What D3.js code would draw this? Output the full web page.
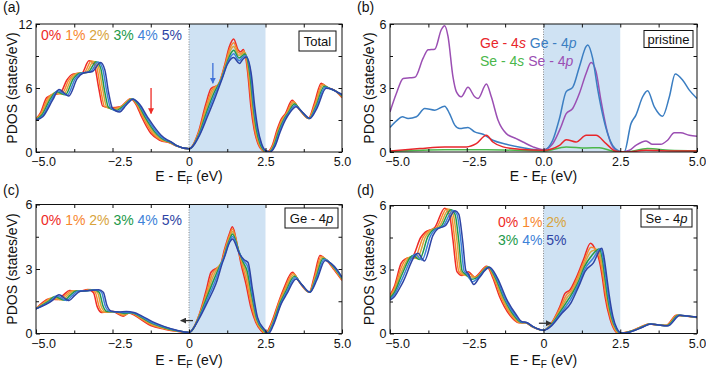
<!DOCTYPE html>
<html>
<head>
<meta charset="utf-8">
<script src="https://cdn.jsdelivr.net/npm/d3@7/dist/d3.min.js"></script>
<style>
  body { margin: 0; background: #fff; }
  text { font-family: "Liberation Sans", Arial, sans-serif; }
</style>
</head>
<body>
<svg id="chart" width="706" height="369"></svg>
<script>
// ---------- data ----------
const strainLabels = ['0%', '1%', '2%', '3%', '4%', '5%'];
const strainColors = ['#ee2b26', '#f7862e', '#d8a43c', '#22994a', '#3d82d8', '#2e44a4'];

const xTickValues = [-5, -2.5, 0, 2.5, 5];
const xMinorTicks = [-3.75, -1.25, 1.25, 3.75];
const xTickLabels = ['\u22125.0', '\u22122.5', '0', '2.5', '5.0'];
const xTickLabelsB = ['\u22125.0', '\u22122.5', '0.0', '2.5', '5.0'];
const yTicksTotal = [0, 6, 12];
const yMinorTotal = [3, 9];
const yTicksPdos = [0, 3, 6];
const yMinorPdos = [1.5, 4.5];

// (a) total DOS, [E - EF, states/eV], one array per strain
const total0 = [[-5,3.1],[-4.85,3.7],[-4.65,5.1],[-4.45,5.35],[-4.2,5.55],[-4,6.7],[-3.8,7.3],[-3.5,7.4],[-3.27,8.55],[-3.1,8.2],[-2.95,6],[-2.82,4.3],[-2.55,4.15],[-2.25,4.25],[-1.9,5],[-1.72,4.4],[-1.55,3.3],[-1.25,1.75],[-0.95,1.1],[-0.62,0.85],[-0.4,0.55],[0,0.3],[0.3,1.8],[0.55,4.5],[0.72,5.95],[0.95,6.3],[1.15,8],[1.32,9.9],[1.46,10.6],[1.6,9.6],[1.68,9.4],[1.78,9.6],[1.92,7.4],[2.02,4.3],[2.13,2.1],[2.25,0.8],[2.4,0.15],[2.55,0],[2.72,0.6],[2.88,2.1],[3.02,3.1],[3.15,3.6],[3.37,4.85],[3.6,4],[3.9,3.15],[4.1,4.6],[4.32,6.45],[4.52,6.05],[4.75,5.8],[5,5.1]];
const total1 = [[-5,3.08],[-4.84,3.62],[-4.61,5.06],[-4.41,5.45],[-4.15,5.49],[-3.93,6.74],[-3.73,7.32],[-3.43,7.43],[-3.19,8.52],[-3.03,8.1],[-2.89,5.92],[-2.76,4.26],[-2.49,4.07],[-2.21,4.28],[-1.89,4.99],[-1.7,4.42],[-1.51,3.3],[-1.18,1.72],[-0.91,1.12],[-0.61,0.87],[-0.4,0.56],[0,0.3],[0.31,1.76],[0.56,4.26],[0.75,5.82],[0.98,6.44],[1.17,8.04],[1.33,9.67],[1.46,10.25],[1.61,9.34],[1.7,9.26],[1.8,9.46],[1.94,7.36],[2.05,4.28],[2.15,2.12],[2.27,0.8],[2.42,0.15],[2.57,0],[2.74,0.6],[2.9,2.04],[3.05,3.08],[3.18,3.62],[3.4,4.73],[3.62,3.95],[3.91,3.15],[4.12,4.5],[4.35,6.35],[4.55,6.02],[4.77,5.76],[5,5.16]];
const total2 = [[-5,3.06],[-4.82,3.54],[-4.57,5.02],[-4.37,5.55],[-4.09,5.43],[-3.86,6.78],[-3.66,7.34],[-3.36,7.46],[-3.12,8.49],[-2.96,8],[-2.82,5.84],[-2.69,4.22],[-2.44,3.99],[-2.17,4.31],[-1.87,4.98],[-1.68,4.44],[-1.47,3.3],[-1.12,1.69],[-0.87,1.14],[-0.6,0.89],[-0.4,0.57],[0,0.3],[0.32,1.72],[0.57,4.02],[0.78,5.69],[1.01,6.58],[1.19,8.08],[1.34,9.44],[1.46,9.9],[1.62,9.08],[1.71,9.12],[1.82,9.32],[1.97,7.32],[2.07,4.26],[2.18,2.14],[2.3,0.8],[2.44,0.15],[2.59,0],[2.76,0.6],[2.92,1.98],[3.07,3.06],[3.21,3.64],[3.42,4.61],[3.64,3.9],[3.92,3.15],[4.13,4.4],[4.38,6.26],[4.57,5.99],[4.79,5.72],[5,5.22]];
const total3 = [[-5,3.04],[-4.81,3.46],[-4.53,4.98],[-4.33,5.65],[-4.04,5.37],[-3.79,6.82],[-3.59,7.36],[-3.29,7.49],[-3.04,8.46],[-2.89,7.9],[-2.76,5.76],[-2.63,4.18],[-2.38,3.91],[-2.13,4.34],[-1.86,4.97],[-1.66,4.46],[-1.44,3.3],[-1.05,1.66],[-0.83,1.16],[-0.6,0.91],[-0.4,0.58],[0,0.3],[0.33,1.68],[0.58,3.78],[0.82,5.56],[1.04,6.72],[1.21,8.12],[1.36,9.21],[1.46,9.55],[1.63,8.82],[1.73,8.98],[1.83,9.18],[1.99,7.28],[2.1,4.24],[2.2,2.16],[2.32,0.8],[2.46,0.15],[2.61,0],[2.78,0.6],[2.93,1.92],[3.1,3.04],[3.24,3.66],[3.45,4.49],[3.66,3.85],[3.93,3.15],[4.15,4.3],[4.42,6.16],[4.6,5.96],[4.81,5.68],[5,5.28]];
const total4 = [[-5,3.02],[-4.79,3.38],[-4.49,4.94],[-4.29,5.75],[-3.98,5.31],[-3.72,6.86],[-3.52,7.38],[-3.22,7.52],[-2.97,8.43],[-2.82,7.8],[-2.69,5.68],[-2.56,4.14],[-2.33,3.83],[-2.09,4.37],[-1.84,4.96],[-1.64,4.48],[-1.4,3.3],[-0.99,1.63],[-0.79,1.18],[-0.59,0.93],[-0.4,0.59],[0,0.3],[0.34,1.64],[0.59,3.54],[0.85,5.43],[1.07,6.86],[1.23,8.16],[1.37,8.98],[1.46,9.2],[1.64,8.56],[1.74,8.84],[1.85,9.04],[2.02,7.24],[2.12,4.22],[2.23,2.18],[2.35,0.8],[2.48,0.15],[2.63,0],[2.8,0.6],[2.95,1.86],[3.12,3.02],[3.27,3.68],[3.47,4.37],[3.68,3.8],[3.94,3.15],[4.16,4.2],[4.45,6.07],[4.62,5.93],[4.83,5.64],[5,5.34]];
const total5 = [[-5,3],[-4.78,3.3],[-4.45,4.9],[-4.25,5.85],[-3.93,5.25],[-3.65,6.9],[-3.45,7.4],[-3.15,7.55],[-2.89,8.4],[-2.75,7.7],[-2.63,5.6],[-2.5,4.1],[-2.27,3.75],[-2.05,4.4],[-1.83,4.95],[-1.62,4.5],[-1.36,3.3],[-0.92,1.6],[-0.75,1.2],[-0.58,0.95],[-0.4,0.6],[0,0.3],[0.35,1.6],[0.6,3.3],[0.88,5.3],[1.1,7],[1.25,8.2],[1.38,8.75],[1.46,8.85],[1.65,8.3],[1.76,8.7],[1.87,8.9],[2.04,7.2],[2.15,4.2],[2.25,2.2],[2.37,0.8],[2.5,0.15],[2.65,0],[2.82,0.6],[2.97,1.8],[3.15,3],[3.3,3.7],[3.5,4.25],[3.7,3.75],[3.95,3.15],[4.18,4.1],[4.48,5.97],[4.65,5.9],[4.85,5.6],[5,5.4]];

// (b) pristine projected DOS
const orbitalNames = [['Ge - 4', 's'], ['Ge - 4', 'p'], ['Se - 4', 's'], ['Se - 4', 'p']];
const orbitalColors = ['#e8262b', '#3b7ec2', '#4bb74b', '#9b4fb3'];
const ge4s = [[-5,0.05],[-4.03,0.16],[-3.22,0.24],[-2.51,0.24],[-2.19,0.39],[-1.86,0.78],[-1.65,0.47],[-1.32,0.24],[-0.78,0.13],[0,0.08],[0.52,0.31],[0.74,0.58],[1.06,0.47],[1.39,0.78],[1.71,0.78],[2.04,0.39],[2.36,0.03],[2.69,0],[3.34,0.08],[4.1,0.05],[5,0.05]];
const ge4p = [[-5,1.15],[-4.79,1.46],[-4.6,1.65],[-4.41,1.57],[-4.14,1.65],[-3.87,2.04],[-3.54,1.96],[-3.22,2.15],[-3.06,1.8],[-2.89,1.26],[-2.73,1.1],[-2.46,1.15],[-2.24,0.94],[-1.97,0.83],[-1.65,0.55],[-1.21,0.36],[-0.67,0.2],[0,0.08],[0.3,0.55],[0.52,1.57],[0.74,2.83],[0.95,3.03],[1.17,4],[1.39,4.95],[1.44,5.02],[1.6,4.4],[1.77,2.9],[1.93,1.73],[2.09,0.86],[2.25,0.31],[2.42,0.08],[2.63,0],[2.85,1.33],[3.01,1.73],[3.23,2.59],[3.39,2.87],[3.61,2.12],[3.88,1.68],[4.1,2.59],[4.29,3.66],[4.53,3.38],[4.75,2.9],[5,2.51]];
const se4s = [[-5,0.03],[-3.22,0.11],[-1.86,0.11],[0,0.05],[0.74,0.24],[1.39,0.19],[1.82,0.2],[2.25,0.05],[2.69,0],[3.39,0.16],[4.1,0.08],[5,0.05]];
const se4p = [[-5,1.88],[-4.79,2.75],[-4.57,3.45],[-4.35,3.48],[-4.19,3.5],[-3.92,4.4],[-3.76,4.79],[-3.54,4.82],[-3.33,5.73],[-3.22,5.92],[-3.11,5.42],[-2.95,3.53],[-2.84,2.83],[-2.68,2.59],[-2.46,3.03],[-2.24,2.59],[-2.13,2.51],[-1.86,3.19],[-1.7,2.59],[-1.48,1.49],[-1.21,0.86],[-0.89,0.63],[-0.67,0.47],[-0.34,0.24],[0,0.11],[0.3,0.39],[0.57,1.18],[0.74,1.8],[0.95,2.04],[1.17,2.75],[1.39,3.69],[1.55,4.19],[1.71,3.77],[1.87,2.43],[2.04,1.18],[2.2,0.39],[2.36,0.08],[2.52,0],[2.8,0.08],[3.01,0.31],[3.34,0.52],[3.55,0.36],[3.82,0.36],[4.04,0.55],[4.26,0.9],[4.47,0.9],[4.75,0.78],[5,0.74]];

// (c) Ge-4p under strain
const ge0 = [[-5,1.15],[-4.78,1.45],[-4.6,1.6],[-4.3,1.58],[-4.1,1.8],[-3.9,2],[-3.6,1.95],[-3.3,2.05],[-3.12,1.9],[-3,1.25],[-2.85,0.98],[-2.5,1.02],[-2.15,0.8],[-1.97,0.95],[-1.6,0.68],[-1.25,0.37],[-0.8,0.2],[-0.4,0.1],[0,0.05],[0.34,0.91],[0.56,2],[0.72,2.85],[0.92,3.05],[1.02,3.15],[1.15,3.86],[1.32,4.64],[1.42,4.97],[1.59,4.02],[1.7,3.24],[1.86,2.31],[2.02,1.22],[2.18,0.53],[2.35,0.14],[2.5,0],[2.68,0.45],[2.95,1.55],[3.1,2.1],[3.38,2.85],[3.6,2.4],[3.93,1.92],[4.1,2.7],[4.28,3.63],[4.5,3.4],[4.75,2.95],[5,2.47]];
const ge1 = [[-5,1.15],[-4.71,1.47],[-4.53,1.64],[-4.22,1.57],[-4.03,1.79],[-3.83,1.99],[-3.53,1.96],[-3.23,2.05],[-3.06,1.9],[-2.94,1.26],[-2.79,0.99],[-2.46,1.02],[-2.13,0.84],[-1.94,0.96],[-1.59,0.71],[-1.24,0.41],[-0.8,0.22],[-0.4,0.11],[0,0.05],[0.34,0.87],[0.57,1.89],[0.75,2.74],[0.96,3.1],[1.06,3.26],[1.18,3.92],[1.33,4.58],[1.42,4.86],[1.6,3.96],[1.72,3.28],[1.87,2.51],[2.03,1.38],[2.19,0.57],[2.37,0.15],[2.52,0],[2.7,0.44],[2.96,1.52],[3.12,2.05],[3.4,2.79],[3.62,2.37],[3.93,1.92],[4.12,2.66],[4.31,3.58],[4.53,3.37],[4.77,2.95],[5,2.5]];
const ge2 = [[-5,1.15],[-4.65,1.49],[-4.46,1.68],[-4.15,1.56],[-3.96,1.78],[-3.76,1.99],[-3.46,1.97],[-3.16,2.04],[-2.99,1.91],[-2.87,1.27],[-2.73,1.01],[-2.42,1.01],[-2.11,0.89],[-1.9,0.96],[-1.58,0.74],[-1.23,0.44],[-0.8,0.25],[-0.4,0.12],[0,0.05],[0.34,0.83],[0.58,1.78],[0.78,2.63],[0.99,3.16],[1.09,3.38],[1.21,3.98],[1.34,4.52],[1.42,4.74],[1.61,3.89],[1.74,3.32],[1.89,2.71],[2.04,1.53],[2.2,0.62],[2.39,0.16],[2.54,0],[2.71,0.43],[2.98,1.49],[3.14,2],[3.43,2.73],[3.64,2.34],[3.94,1.92],[4.13,2.62],[4.35,3.54],[4.56,3.34],[4.79,2.95],[5,2.53]];
const ge3 = [[-5,1.15],[-4.58,1.51],[-4.39,1.72],[-4.07,1.55],[-3.89,1.77],[-3.69,1.98],[-3.39,1.98],[-3.09,2.04],[-2.93,1.91],[-2.81,1.28],[-2.67,1.02],[-2.38,1.01],[-2.09,0.93],[-1.87,0.97],[-1.57,0.76],[-1.22,0.48],[-0.8,0.27],[-0.4,0.13],[0,0.05],[0.34,0.8],[0.58,1.67],[0.82,2.53],[1.03,3.21],[1.13,3.49],[1.24,4.03],[1.35,4.45],[1.42,4.63],[1.63,3.83],[1.76,3.35],[1.9,2.9],[2.06,1.69],[2.22,0.66],[2.42,0.18],[2.56,0],[2.73,0.42],[2.99,1.46],[3.16,1.95],[3.45,2.66],[3.66,2.31],[3.94,1.92],[4.15,2.58],[4.38,3.49],[4.59,3.31],[4.81,2.95],[5,2.56]];
const ge4 = [[-5,1.15],[-4.51,1.53],[-4.32,1.76],[-4,1.54],[-3.82,1.76],[-3.62,1.98],[-3.32,1.99],[-3.02,2.03],[-2.86,1.92],[-2.74,1.29],[-2.61,1.04],[-2.34,1],[-2.07,0.98],[-1.83,0.97],[-1.56,0.79],[-1.21,0.51],[-0.8,0.3],[-0.4,0.14],[0,0.05],[0.34,0.76],[0.59,1.56],[0.85,2.42],[1.06,3.27],[1.16,3.61],[1.27,4.09],[1.36,4.39],[1.42,4.51],[1.64,3.76],[1.78,3.39],[1.92,3.1],[2.07,1.84],[2.23,0.71],[2.44,0.19],[2.58,0],[2.74,0.41],[3.01,1.43],[3.18,1.9],[3.48,2.6],[3.68,2.28],[3.95,1.92],[4.16,2.54],[4.42,3.45],[4.62,3.28],[4.83,2.95],[5,2.59]];
const ge5 = [[-5,1.15],[-4.45,1.55],[-4.25,1.8],[-3.92,1.53],[-3.75,1.75],[-3.55,1.97],[-3.25,2],[-2.95,2.03],[-2.8,1.92],[-2.68,1.3],[-2.55,1.05],[-2.3,1],[-2.05,1.02],[-1.8,0.98],[-1.55,0.82],[-1.2,0.55],[-0.8,0.32],[-0.4,0.15],[0,0.05],[0.34,0.72],[0.6,1.45],[0.88,2.31],[1.1,3.32],[1.2,3.72],[1.3,4.15],[1.37,4.33],[1.42,4.4],[1.65,3.7],[1.8,3.43],[1.93,3.3],[2.08,2],[2.24,0.75],[2.46,0.2],[2.6,0],[2.76,0.4],[3.02,1.4],[3.2,1.85],[3.5,2.54],[3.7,2.25],[3.95,1.92],[4.18,2.5],[4.45,3.4],[4.65,3.25],[4.85,2.95],[5,2.62]];

// (d) Se-4p under strain
const se0 = [[-5,1.8],[-4.86,2.2],[-4.64,3.29],[-4.5,3.5],[-4.28,3.58],[-4,4.5],[-3.85,4.75],[-3.55,4.95],[-3.22,5.87],[-3.06,5.56],[-2.95,4.4],[-2.82,2.9],[-2.65,2.72],[-2.45,2.9],[-2.25,2.65],[-1.85,3.15],[-1.65,2.6],[-1.43,1.72],[-1.1,0.86],[-0.8,0.5],[-0.6,0.5],[-0.35,0.3],[0,0.15],[0.21,0.39],[0.53,1.25],[0.7,1.88],[0.86,2.04],[1.08,2.66],[1.3,3.45],[1.53,4.23],[1.7,3.9],[1.82,3.4],[1.92,2.6],[2,1.76],[2.17,0.67],[2.33,0.13],[2.45,0],[2.65,0.05],[2.93,0.16],[3.15,0.3],[3.45,0.45],[3.7,0.4],[4,0.38],[4.33,0.86],[4.6,0.82],[5,0.75]];
const se1 = [[-5,1.75],[-4.86,2.1],[-4.63,3.1],[-4.42,3.55],[-4.2,3.54],[-3.92,4.52],[-3.77,4.78],[-3.48,4.97],[-3.15,5.85],[-3,5.57],[-2.89,4.38],[-2.76,2.91],[-2.61,2.74],[-2.41,2.78],[-2.22,2.64],[-1.83,3.14],[-1.62,2.6],[-1.38,1.7],[-1.06,0.87],[-0.78,0.51],[-0.59,0.5],[-0.35,0.31],[0,0.15],[0.21,0.37],[0.54,1.19],[0.74,1.79],[0.9,2.01],[1.1,2.6],[1.31,3.34],[1.55,4.04],[1.74,3.92],[1.85,3.42],[1.95,2.61],[2.03,1.77],[2.19,0.7],[2.34,0.15],[2.47,0],[2.66,0.05],[2.94,0.16],[3.16,0.3],[3.46,0.45],[3.71,0.4],[4.01,0.38],[4.35,0.86],[4.62,0.82],[5,0.75]];
const se2 = [[-5,1.7],[-4.86,2.01],[-4.62,2.91],[-4.34,3.6],[-4.12,3.51],[-3.84,4.54],[-3.69,4.81],[-3.41,4.99],[-3.08,5.82],[-2.94,5.58],[-2.82,4.36],[-2.7,2.92],[-2.57,2.75],[-2.38,2.66],[-2.19,2.63],[-1.81,3.13],[-1.59,2.6],[-1.34,1.67],[-1.02,0.88],[-0.76,0.52],[-0.58,0.51],[-0.35,0.31],[0,0.15],[0.21,0.35],[0.56,1.13],[0.78,1.71],[0.94,1.98],[1.12,2.54],[1.32,3.23],[1.57,3.86],[1.78,3.94],[1.88,3.44],[1.98,2.62],[2.06,1.78],[2.21,0.72],[2.35,0.17],[2.49,0.01],[2.67,0.04],[2.95,0.16],[3.17,0.29],[3.47,0.45],[3.72,0.4],[4.02,0.37],[4.38,0.86],[4.63,0.82],[5,0.76]];
const se3 = [[-5,1.66],[-4.86,1.91],[-4.62,2.73],[-4.25,3.66],[-4.04,3.47],[-3.76,4.56],[-3.61,4.84],[-3.34,5.01],[-3.02,5.8],[-2.88,5.58],[-2.76,4.34],[-2.65,2.93],[-2.53,2.77],[-2.34,2.54],[-2.16,2.62],[-1.8,3.12],[-1.56,2.6],[-1.29,1.65],[-0.98,0.88],[-0.74,0.53],[-0.57,0.51],[-0.35,0.32],[0,0.15],[0.21,0.34],[0.57,1.07],[0.82,1.62],[0.97,1.96],[1.15,2.47],[1.33,3.12],[1.58,3.67],[1.82,3.96],[1.92,3.46],[2,2.64],[2.08,1.78],[2.22,0.75],[2.37,0.2],[2.51,0.01],[2.68,0.04],[2.96,0.15],[3.18,0.29],[3.48,0.45],[3.73,0.4],[4.03,0.37],[4.4,0.85],[4.65,0.82],[5,0.76]];
const se4 = [[-5,1.61],[-4.86,1.82],[-4.61,2.54],[-4.17,3.71],[-3.96,3.44],[-3.68,4.58],[-3.53,4.87],[-3.27,5.03],[-2.95,5.77],[-2.82,5.59],[-2.69,4.32],[-2.59,2.94],[-2.49,2.78],[-2.31,2.42],[-2.13,2.61],[-1.78,3.11],[-1.53,2.6],[-1.25,1.62],[-0.94,0.89],[-0.72,0.54],[-0.56,0.52],[-0.35,0.32],[0,0.15],[0.21,0.32],[0.59,1.01],[0.86,1.54],[1.01,1.93],[1.17,2.41],[1.34,3.01],[1.6,3.49],[1.86,3.98],[1.95,3.48],[2.03,2.65],[2.11,1.79],[2.24,0.77],[2.38,0.22],[2.53,0.02],[2.69,0.03],[2.97,0.15],[3.19,0.28],[3.49,0.45],[3.74,0.4],[4.04,0.36],[4.43,0.85],[4.66,0.82],[5,0.77]];
const se5 = [[-5,1.56],[-4.86,1.72],[-4.6,2.35],[-4.09,3.76],[-3.88,3.4],[-3.6,4.6],[-3.45,4.9],[-3.2,5.05],[-2.88,5.75],[-2.76,5.6],[-2.63,4.3],[-2.53,2.95],[-2.45,2.8],[-2.27,2.3],[-2.1,2.6],[-1.76,3.1],[-1.5,2.6],[-1.2,1.6],[-0.9,0.9],[-0.7,0.55],[-0.55,0.52],[-0.35,0.33],[0,0.15],[0.21,0.3],[0.6,0.95],[0.9,1.45],[1.05,1.9],[1.19,2.35],[1.35,2.9],[1.62,3.3],[1.9,4],[1.98,3.5],[2.06,2.66],[2.14,1.8],[2.26,0.8],[2.39,0.24],[2.55,0.02],[2.7,0.03],[2.98,0.15],[3.2,0.28],[3.5,0.45],[3.75,0.4],[4.05,0.36],[4.45,0.85],[4.68,0.82],[5,0.77]];

// ---------- drawing ----------
const svg = d3.select('#chart');
const defs = svg.append('defs');

function arrowMarker(id, color) {
  defs.append('marker')
    .attr('id', id)
    .attr('viewBox', '0 0 10 10')
    .attr('refX', 9).attr('refY', 5)
    .attr('markerUnits', 'userSpaceOnUse')
    .attr('markerWidth', 6).attr('markerHeight', 6)
    .attr('orient', 'auto')
    .append('path').attr('d', 'M0,0 L10,5 L0,10 z').attr('fill', color);
}
arrowMarker('head-red', '#ee2b26');
arrowMarker('head-blue', '#3d6fd8');
arrowMarker('head-black', '#333');

const panels = [
  { key: 'a', tag: '(a)', left: 36, right: 342, top: 24, bottom: 152, yMax: 12,
    yTicks: yTicksTotal, yMinor: yMinorTotal, xLabels: xTickLabels,
    series: [total0, total1, total2, total3, total4, total5], colors: strainColors, order: [0, 1, 2, 3, 4, 5],
    box: { parts: [['Total', false]], x: 299, y: 31, w: 37, h: 20 },
    legend: { x: 41, rows: [[0, 1, 2, 3, 4, 5]], y: [40] },
    arrows: [{ e1: -1.24, v1: 6.0, e2: -1.24, v2: 3.6, head: 'head-red', color: '#ee2b26' },
             { e1: 0.78, v1: 8.35, e2: 0.78, v2: 6.45, head: 'head-blue', color: '#3d6fd8' }],
    labelPad: 5, titleY: 181, yTitleX: 17, tagY: 12 },
  { key: 'b', tag: '(b)', left: 390, right: 697, top: 24, bottom: 152, yMax: 6,
    yTicks: yTicksPdos, yMinor: yMinorPdos, xLabels: xTickLabelsB,
    series: [ge4s, ge4p, se4s, se4p], colors: orbitalColors, order: [3, 1, 2, 0],
    box: { parts: [['pristine', false]], x: 644, y: 30.5, w: 49, h: 17 },
    orbitalLegend: { x: 480, y: [47.5, 65.5], rows: [[0, 1], [2, 3]] },
    arrows: [],
    labelPad: 5, titleY: 181, yTitleX: 374, tagY: 12 },
  { key: 'c', tag: '(c)', left: 36, right: 342, top: 204.5, bottom: 333.5, yMax: 6,
    yTicks: yTicksPdos, yMinor: yMinorPdos, xLabels: xTickLabels,
    series: [ge0, ge1, ge2, ge3, ge4, ge5], colors: strainColors, order: [0, 1, 2, 3, 4, 5],
    box: { parts: [['Ge - 4', false], ['p', true]], x: 285, y: 208, w: 53, h: 20 },
    legend: { x: 41, rows: [[0, 1, 2, 3, 4, 5]], y: [225] },
    arrows: [{ e1: 0.13, v1: 0.6, e2: -0.27, v2: 0.6, head: 'head-black', color: '#333' }],
    labelPad: 6, titleY: 365, yTitleX: 17, tagY: 195 },
  { key: 'd', tag: '(d)', left: 390, right: 697, top: 205.5, bottom: 333.5, yMax: 6,
    yTicks: yTicksPdos, yMinor: yMinorPdos, xLabels: xTickLabels,
    series: [se0, se1, se2, se3, se4, se5], colors: strainColors, order: [0, 1, 2, 3, 4, 5],
    box: { parts: [['Se - 4', false], ['p', true]], x: 641, y: 209, w: 51, h: 18 },
    legend: { x: 498, rows: [[0, 1, 2], [3, 4, 5]], y: [227, 245] },
    arrows: [{ e1: -0.15, v1: 0.48, e2: 0.25, v2: 0.48, head: 'head-black', color: '#333' }],
    labelPad: 6, titleY: 365, yTitleX: 374, tagY: 195 }
];

function drawPanel(p) {
  const x = d3.scaleLinear().domain([-5, 5]).range([p.left, p.right]);
  const y = d3.scaleLinear().domain([0, p.yMax]).range([p.bottom, p.top]);
  const g = svg.append('g');

  defs.append('clipPath').attr('id', 'clip-' + p.key)
    .append('rect')
      .attr('x', p.left).attr('y', p.top)
      .attr('width', p.right - p.left).attr('height', p.bottom - p.top);

  // conduction window, 0 to 2.5 eV
  g.append('rect')
    .attr('x', x(0)).attr('y', p.top)
    .attr('width', x(2.5) - x(0)).attr('height', p.bottom - p.top)
    .attr('fill', '#cfe2f3');
  g.append('line')
    .attr('x1', x(0)).attr('x2', x(0))
    .attr('y1', p.top).attr('y2', p.bottom)
    .attr('stroke', '#8a8a8a').attr('stroke-width', 1)
    .attr('stroke-dasharray', '1,1.5');

  const line = d3.line()
    .x(d => x(d[0]))
    .y(d => y(d[1]))
    .curve(d3.curveMonotoneX);

  const curves = g.append('g').attr('clip-path', `url(#clip-${p.key})`);
  p.order.forEach(i => {
    curves.append('path')
      .attr('d', line(p.series[i]))
      .attr('fill', 'none')
      .attr('stroke', p.colors[i])
      .attr('stroke-width', 1.5);
  });

  // axes, ticks pointing inwards on all four sides
  const bottom = g.append('g').attr('transform', `translate(0,${p.bottom})`)
    .call(d3.axisBottom(x).tickValues(xTickValues).tickSize(-4).tickPadding(p.labelPad)
      .tickFormat((d, i) => p.xLabels[i]));
  bottom.selectAll('text').attr('dx', d => d < 0 ? 7 : 0);
  g.append('g').attr('transform', `translate(0,${p.bottom})`)
    .call(d3.axisBottom(x).tickValues(xMinorTicks).tickSize(-3).tickFormat(''));
  g.append('g').attr('transform', `translate(0,${p.top})`)
    .call(d3.axisTop(x).tickValues(xTickValues.concat(xMinorTicks)).tickSize(-3.5).tickFormat(''));

  g.append('g').attr('transform', `translate(${p.left},0)`)
    .call(d3.axisLeft(y).tickValues(p.yTicks).tickSize(-4).tickPadding(3.5)
      .tickFormat(d => String(d)));
  g.append('g').attr('transform', `translate(${p.left},0)`)
    .call(d3.axisLeft(y).tickValues(p.yMinor).tickSize(-3).tickFormat(''));
  g.append('g').attr('transform', `translate(${p.right},0)`)
    .call(d3.axisRight(y).tickValues(p.yTicks.concat(p.yMinor)).tickSize(-3.5).tickFormat(''));

  g.selectAll('.domain').remove();
  g.selectAll('.tick text').attr('font-size', 12.5).attr('fill', '#111');
  g.selectAll('.tick line').attr('stroke', '#111');

  g.append('rect')
    .attr('x', p.left).attr('y', p.top)
    .attr('width', p.right - p.left).attr('height', p.bottom - p.top)
    .attr('fill', 'none').attr('stroke', '#111').attr('stroke-width', 1);

  // titles
  const xt = g.append('text')
    .attr('x', (p.left + p.right) / 2).attr('y', p.titleY)
    .attr('text-anchor', 'middle').attr('font-size', 14).attr('fill', '#111');
  xt.append('tspan').text('E - E');
  xt.append('tspan').attr('font-size', 10).attr('dy', 3).text('F');
  xt.append('tspan').attr('dy', -3).text(' (eV)');

  g.append('text')
    .attr('transform', `translate(${p.yTitleX},${(p.top + p.bottom) / 2}) rotate(-90)`)
    .attr('text-anchor', 'middle').attr('font-size', 14).attr('fill', '#111')
    .text('PDOS (states/eV)');

  g.append('text')
    .attr('x', p.left - 33).attr('y', p.tagY)
    .attr('font-size', 14).attr('fill', '#111')
    .text(p.tag);

  // boxed label
  g.append('rect')
    .attr('x', p.box.x).attr('y', p.box.y)
    .attr('width', p.box.w).attr('height', p.box.h)
    .attr('fill', '#fff').attr('stroke', '#111').attr('stroke-width', 1);
  const bt = g.append('text')
    .attr('x', p.box.x + p.box.w / 2).attr('y', p.box.y + p.box.h / 2 + 4.5)
    .attr('text-anchor', 'middle').attr('font-size', 13).attr('fill', '#111');
  p.box.parts.forEach(([s, it]) => {
    bt.append('tspan').attr('font-style', it ? 'italic' : null).text(s);
  });

  // strain legend
  if (p.legend) {
    p.legend.rows.forEach((row, r) => {
      const t = g.append('text')
        .attr('x', p.legend.x).attr('y', p.legend.y[r])
        .attr('font-size', 14).style('white-space', 'pre');
      row.forEach((k, j) => {
        t.append('tspan').attr('fill', strainColors[k])
          .text(strainLabels[k] + (j < row.length - 1 ? ' ' : ''));
      });
    });
  }

  // orbital legend
  if (p.orbitalLegend) {
    p.orbitalLegend.rows.forEach((row, r) => {
      const t = g.append('text')
        .attr('x', p.orbitalLegend.x).attr('y', p.orbitalLegend.y[r])
        .attr('font-size', 14).style('white-space', 'pre');
      row.forEach((k, j) => {
        t.append('tspan').attr('fill', orbitalColors[k]).text(orbitalNames[k][0]);
        t.append('tspan').attr('fill', orbitalColors[k]).attr('font-style', 'italic')
          .text(orbitalNames[k][1] + (j < row.length - 1 ? ' ' : ''));
      });
    });
  }

  p.arrows.forEach(a => {
    g.append('line')
      .attr('x1', x(a.e1)).attr('y1', y(a.v1))
      .attr('x2', x(a.e2)).attr('y2', y(a.v2))
      .attr('stroke', a.color).attr('stroke-width', 1.3)
      .attr('marker-end', `url(#${a.head})`);
  });
}

panels.forEach(drawPanel);
</script>
</body>
</html>
